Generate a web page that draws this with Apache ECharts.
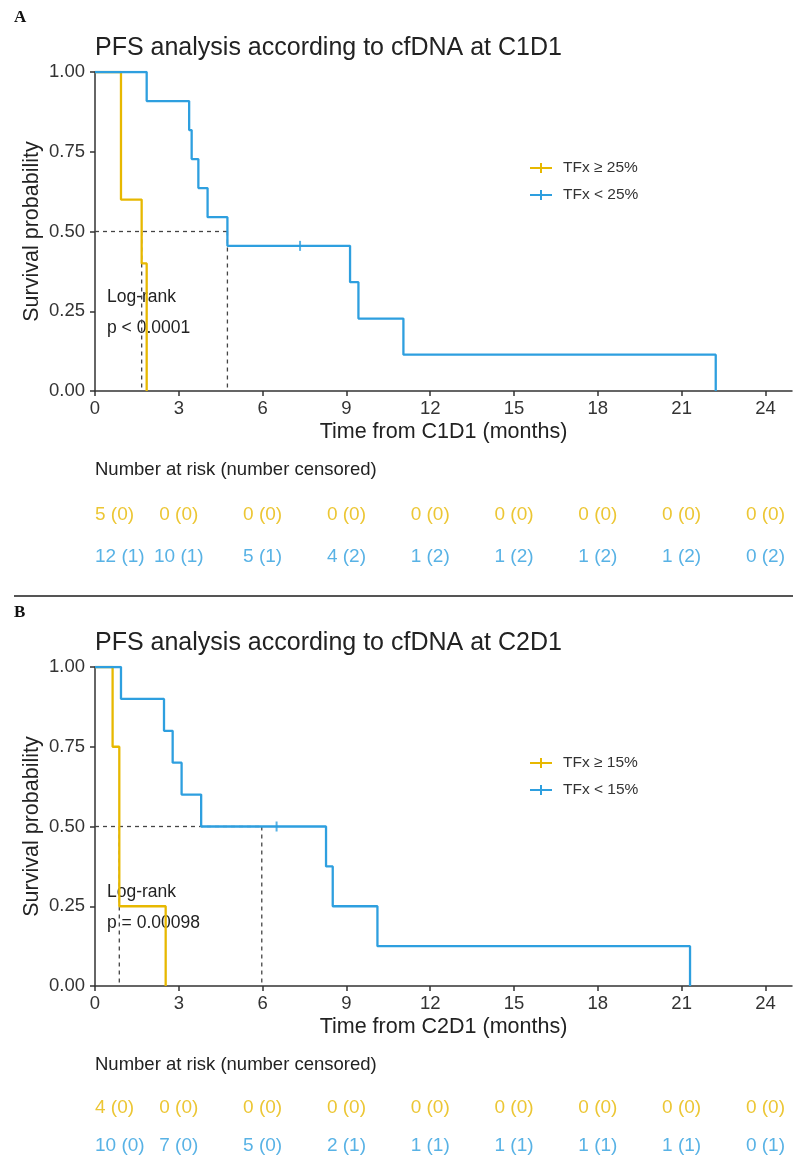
<!DOCTYPE html>
<html>
<head>
<meta charset="utf-8">
<script src="https://cdn.jsdelivr.net/npm/echarts@6/dist/echarts.min.js"></script>
<style>
  html, body { margin: 0; padding: 0; background: #fff; }
  #chart { width: 793px; height: 1165px; }
</style>
</head>
<body>
<div id="chart"></div>
<script>
// axis ticks (months)
var xTicks = [0, 3, 6, 9, 12, 15, 18, 21, 24];

// panel A: cfDNA at C1D1
var aHighName = "TFx ≥ 25%";
var aLowName = "TFx < 25%";
var aHighTime = [0, 0.93, 1.67, 1.85];
var aHighSurv = [1, 0.6, 0.4, 0];
var aLowTime = [0, 1.85, 3.37, 3.46, 3.70, 4.03, 4.74, 9.13, 9.43, 11.04, 22.22];
var aLowSurv = [1, 0.909, 0.818, 0.727, 0.636, 0.545, 0.455, 0.341, 0.227, 0.114, 0];
var aCensorTime = [7.34];
var aCensorSurv = [0.455];
var aMedians = [1.67, 4.74];
var aHighRisk = [5, 0, 0, 0, 0, 0, 0, 0, 0];
var aHighCens = [0, 0, 0, 0, 0, 0, 0, 0, 0];
var aLowRisk = [12, 10, 5, 4, 1, 1, 1, 1, 0];
var aLowCens = [1, 1, 1, 2, 2, 2, 2, 2, 2];

// panel B: cfDNA at C2D1
var bHighName = "TFx ≥ 15%";
var bLowName = "TFx < 15%";
var bHighTime = [0, 0.63, 0.87, 2.53];
var bHighSurv = [1, 0.75, 0.25, 0];
var bLowTime = [0, 0.93, 2.47, 2.78, 3.10, 3.80, 8.27, 8.51, 10.11, 21.30];
var bLowSurv = [1, 0.9, 0.8, 0.7, 0.6, 0.5, 0.375, 0.25, 0.125, 0];
var bCensorTime = [6.50];
var bCensorSurv = [0.5];
var bMedians = [0.87, 5.97];
var bHighRisk = [4, 0, 0, 0, 0, 0, 0, 0, 0];
var bHighCens = [0, 0, 0, 0, 0, 0, 0, 0, 0];
var bLowRisk = [10, 7, 5, 2, 1, 1, 1, 1, 0];
var bLowCens = [0, 0, 0, 1, 1, 1, 1, 1, 1];

var YELLOW = "#E7B800";
var BLUE = "#2E9FDF";
var FONT = "Liberation Sans, Arial, sans-serif";
var AXIS = "#333";
var crossIcon = "path://M0,9 H22 V11 H0 Z M10,5 H12 V15 H10 Z";

function zip(a, b) {
  return a.map(function (v, i) { return [v, b[i]]; });
}

var grid = [], xAxis = [], yAxis = [], series = [], legend = [], graphic = [];

function addPanel(dy, p) {
  var gi = grid.length;
  grid.push({ left: 95, top: 72 + dy, width: 697, height: 319 });
  grid.push({ left: 95, top: 494 + dy, width: 697, height: 84 });

  xAxis.push({
    type: "value", gridIndex: gi, min: 0, max: 24.95,
    axisLine: { show: true, lineStyle: { color: AXIS, width: 1.5 } },
    axisTick: { show: true, length: 5, customValues: xTicks, lineStyle: { color: AXIS, width: 1.5 } },
    axisLabel: { customValues: xTicks, fontSize: 18.5, color: AXIS, fontFamily: FONT, margin: 8 },
    splitLine: { show: false },
    name: p.xName, nameLocation: "middle", nameGap: 30,
    nameTextStyle: { fontSize: 21.5, color: "#222", fontFamily: FONT }
  });
  yAxis.push({
    type: "value", gridIndex: gi, min: 0, max: 1, interval: 0.25,
    axisLine: { show: true, lineStyle: { color: AXIS, width: 1.5 } },
    axisTick: { show: true, length: 5, lineStyle: { color: AXIS, width: 1.5 } },
    axisLabel: { fontSize: 18.5, color: AXIS, fontFamily: FONT, margin: 10,
      formatter: function (v) { return v.toFixed(2); } },
    splitLine: { show: false },
    name: "Survival probability", nameLocation: "middle", nameGap: 52, nameMoveOverlap: false,
    nameTextStyle: { fontSize: 21.5, color: "#222", fontFamily: FONT }
  });
  // risk table grid
  xAxis.push({ type: "value", gridIndex: gi + 1, min: 0, max: 24.95, show: false });
  yAxis.push({ type: "category", gridIndex: gi + 1, data: ["high", "low"], inverse: true, show: false });

  // median guide lines
  var m = p.medians;
  var segs = [
    [[0, 0.5], [m[1], 0.5]],
    [[m[0], 0.5], [m[0], 0]],
    [[m[1], 0.5], [m[1], 0]]
  ];
  segs.forEach(function (s) {
    series.push({
      type: "line", xAxisIndex: gi, yAxisIndex: gi, data: s, symbol: "none", silent: true,
      lineStyle: { color: "#444", width: 1.3, type: [4, 4] }, z: 1
    });
  });

  series.push({
    name: p.highName, type: "line", step: "end", xAxisIndex: gi, yAxisIndex: gi,
    data: zip(p.highTime, p.highSurv), symbol: "none", color: YELLOW,
    lineStyle: { color: YELLOW, width: 2.3 }, z: 2
  });
  series.push({
    name: p.lowName, type: "line", step: "end", xAxisIndex: gi, yAxisIndex: gi,
    data: zip(p.lowTime, p.lowSurv), symbol: "none", color: BLUE,
    lineStyle: { color: BLUE, width: 2.3 }, z: 3
  });
  series.push({
    type: "scatter", xAxisIndex: gi, yAxisIndex: gi, silent: true,
    data: zip(p.censorTime, p.censorSurv), symbol: "rect", symbolSize: [2, 10],
    itemStyle: { color: BLUE }, z: 4
  });

  // number at risk rows
  [["high", p.highRisk, p.highCens, YELLOW], ["low", p.lowRisk, p.lowCens, BLUE]].forEach(function (r) {
    series.push({
      type: "scatter", xAxisIndex: gi + 1, yAxisIndex: gi + 1, symbolSize: 0, silent: true,
      data: xTicks.map(function (t, i) {
        return { value: [t, r[0]], label: { align: i === 0 ? "left" : "center" } };
      }),
      label: {
        show: true, position: "inside", color: r[3], fontSize: 19, fontFamily: FONT,
        formatter: function (d) { return r[1][d.dataIndex] + " (" + r[2][d.dataIndex] + ")"; }
      }
    });
  });

  legend.push({
    left: 525, top: 155 + dy, orient: "vertical", itemWidth: 22, itemHeight: 10, itemGap: 11,
    selectedMode: false,
    data: [{ name: p.highName, icon: crossIcon }, { name: p.lowName, icon: crossIcon }],
    textStyle: { fontSize: 15.5, color: "#333", fontFamily: FONT, padding: [0, 0, 0, 6] }
  });

  var txt = function (x, y, s, size, extra) {
    var st = { text: s, fontSize: size, fontFamily: FONT, fill: "#222", align: "left", verticalAlign: "middle" };
    for (var k in extra) st[k] = extra[k];
    graphic.push({ type: "text", x: x, y: y, style: st });
  };
  txt(14, 18 + dy, p.letter, 17, { fontFamily: "Liberation Serif, serif", fontWeight: "bold", fill: "#111" });
  txt(95, 48 + dy, p.title, 25, {});
  txt(107, 297 + dy, "Log-rank", 17.5, {});
  txt(107, 328 + dy, p.pText, 17.5, {});
  txt(95, 470 + dy, "Number at risk (number censored)", 18.5, {});
}

addPanel(0, {
  letter: "A", title: "PFS analysis according to cfDNA at C1D1", xName: "Time from C1D1 (months)",
  pText: "p < 0.0001", highName: aHighName, lowName: aLowName,
  highTime: aHighTime, highSurv: aHighSurv, lowTime: aLowTime, lowSurv: aLowSurv,
  censorTime: aCensorTime, censorSurv: aCensorSurv, medians: aMedians,
  highRisk: aHighRisk, highCens: aHighCens, lowRisk: aLowRisk, lowCens: aLowCens
});
addPanel(595, {
  letter: "B", title: "PFS analysis according to cfDNA at C2D1", xName: "Time from C2D1 (months)",
  pText: "p = 0.00098", highName: bHighName, lowName: bLowName,
  highTime: bHighTime, highSurv: bHighSurv, lowTime: bLowTime, lowSurv: bLowSurv,
  censorTime: bCensorTime, censorSurv: bCensorSurv, medians: bMedians,
  highRisk: bHighRisk, highCens: bHighCens, lowRisk: bLowRisk, lowCens: bLowCens
});

// separator between panels
graphic.push({
  type: "line", shape: { x1: 14, y1: 596, x2: 793, y2: 596 },
  style: { stroke: "#555", lineWidth: 2 }
});

var chart = echarts.init(document.getElementById("chart"));
chart.setOption({
  animation: false,
  backgroundColor: "#fff",
  grid: grid,
  xAxis: xAxis,
  yAxis: yAxis,
  legend: legend,
  series: series,
  graphic: graphic
});
</script>
</body>
</html>
